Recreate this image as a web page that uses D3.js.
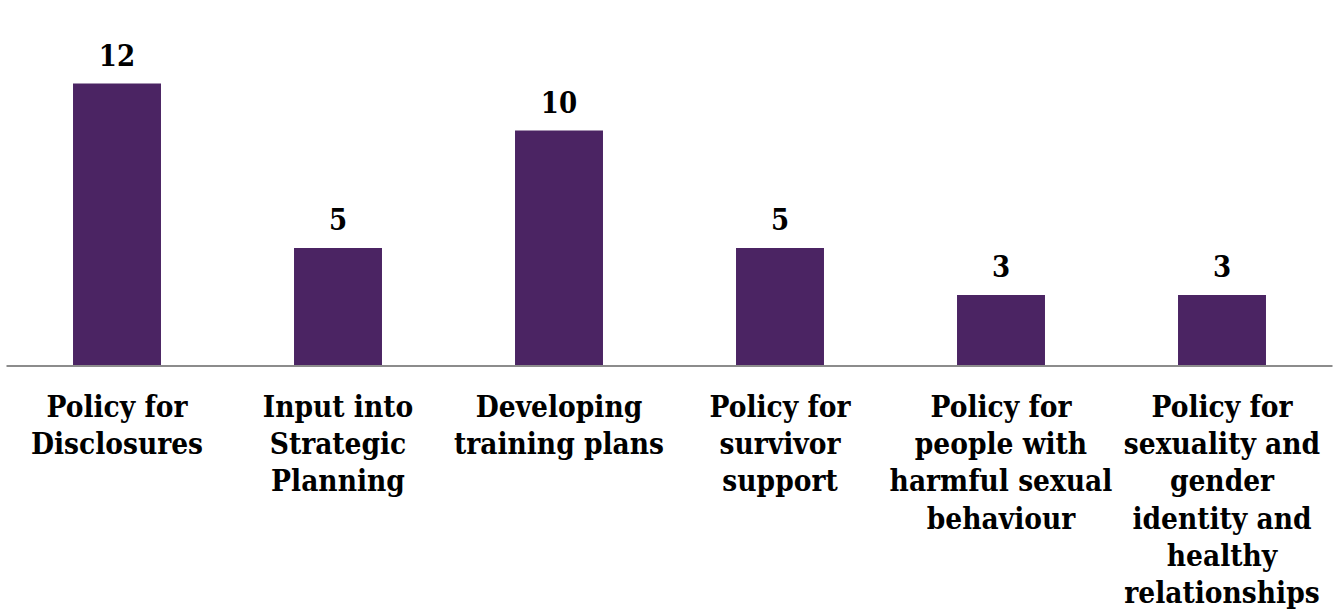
<!DOCTYPE html>
<html>
<head>
<meta charset="utf-8">
<script src="https://cdn.jsdelivr.net/npm/d3@7"></script>
<style>
  html, body { margin: 0; padding: 0; background: #fff; }
  svg { display: block; }
  .lbl { font-family: "DejaVu Serif Condensed", "DejaVu Serif", serif; font-stretch: condensed; font-weight: bold; fill: #000; }
</style>
</head>
<body>
<svg id="chart" width="1344" height="610"></svg>
<script>
// Categories, wrapped the way they appear under each bar
const categories = [
  "Policy for Disclosures",
  "Input into Strategic Planning",
  "Developing training plans",
  "Policy for survivor support",
  "Policy for people with harmful sexual behaviour",
  "Policy for sexuality and gender identity and healthy relationships"
];
const categoryLines = [
  ["Policy for", "Disclosures"],
  ["Input into", "Strategic", "Planning"],
  ["Developing", "training plans"],
  ["Policy for", "survivor", "support"],
  ["Policy for", "people with", "harmful sexual", "behaviour"],
  ["Policy for", "sexuality and", "gender", "identity and", "healthy", "relationships"]
];
const counts = [12, 5, 10, 5, 3, 3];

const svg = d3.select("#chart");
const baseY = 365.5;

const x = d3.scaleBand()
  .domain(categories)
  .range([6.5, 1332.5])
  .paddingInner(0.602)
  .paddingOuter(0.301);

const y = d3.scaleLinear()
  .domain([0, 12])
  .range([baseY, 83.5]);

// Bars
svg.append("g")
  .selectAll("rect")
  .data(counts)
  .join("rect")
  .attr("x", (d, i) => x(categories[i]))
  .attr("y", d => y(d))
  .attr("width", x.bandwidth())
  .attr("height", d => baseY - y(d))
  .attr("fill", "#4b2463");

// Category axis: plain grey baseline, no ticks
const axis = svg.append("g")
  .attr("transform", `translate(0,${baseY})`)
  .call(d3.axisBottom(x).tickSize(0).tickFormat(""));
axis.select(".domain")
  .attr("stroke", "#8c8c8c")
  .attr("stroke-width", 2)
  .attr("d", `M6.5,0.5H1332.5`);

// Value labels above the bars
svg.append("g")
  .selectAll("text")
  .data(counts)
  .join("text")
  .attr("class", "lbl")
  .attr("x", (d, i) => x(categories[i]) + x.bandwidth() / 2)
  .attr("y", d => y(d) - 18)
  .attr("text-anchor", "middle")
  .style("font-size", "29px")
  .text(d => d);

// Multi-line category labels
const labelG = svg.append("g");
categories.forEach((c, i) => {
  const t = labelG.append("text")
    .attr("class", "lbl")
    .attr("text-anchor", "middle")
    .style("font-size", "29.5px")
    .attr("x", x(c) + x.bandwidth() / 2)
    .attr("y", 417);
  categoryLines[i].forEach((ln, j) => {
    t.append("tspan")
      .attr("x", x(c) + x.bandwidth() / 2)
      .attr("dy", j === 0 ? 0 : 37.2)
      .text(ln);
  });
});
</script>
</body>
</html>
